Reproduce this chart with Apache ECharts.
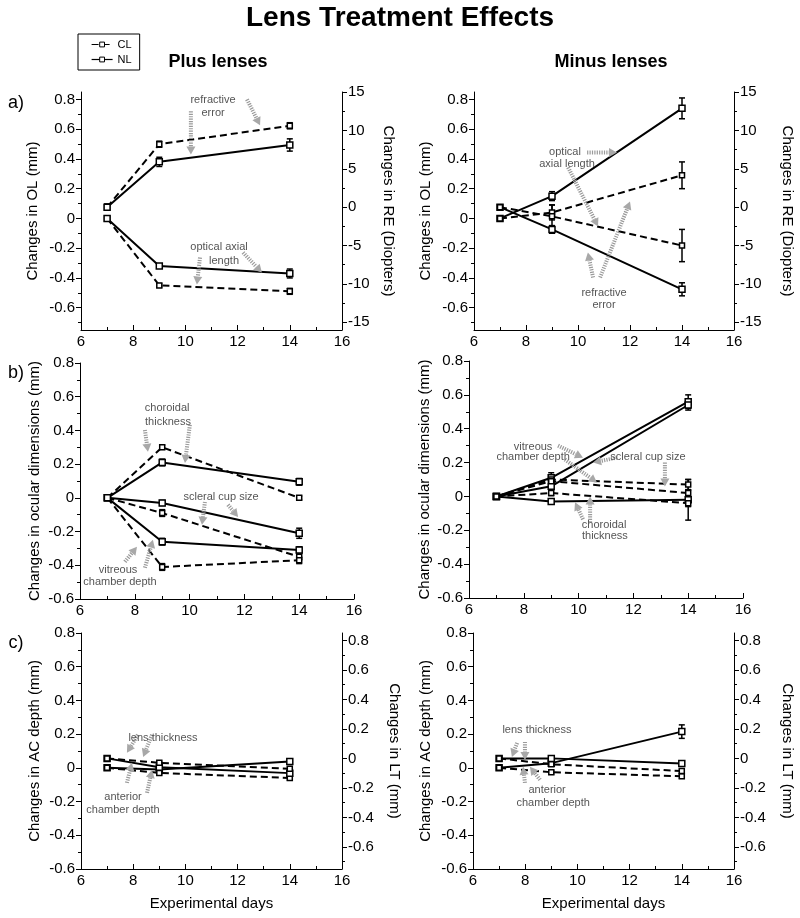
<!DOCTYPE html>
<html>
<head>
<meta charset="utf-8">
<script src="https://cdn.jsdelivr.net/npm/echarts@6/dist/echarts.min.js"></script>
<style>
  html, body { margin: 0; padding: 0; background: #fff; }
  #chart { width: 800px; height: 918px; }
</style>
</head>
<body>
<div id="chart"></div>
<script>
// experimental days
var days = [7, 9, 14];

// a) plus lenses: RE (right axis, D) and optical length (left axis, mm)
var plusRE_CL = [0, 8.2, 10.6],    plusRE_CL_err = [0.4, 0.4, 0.4];
var plusRE_NL = [0, 5.9, 8.1],     plusRE_NL_err = [0.4, 0.6, 0.8];
var plusOL_CL = [0, -0.45, -0.49], plusOL_CL_err = [0.01, 0.012, 0.02];
var plusOL_NL = [0, -0.32, -0.37], plusOL_NL_err = [0.01, 0.012, 0.03];

// a) minus lenses
var minusOL_NL = [0, 0.15, 0.74],  minusOL_NL_err = [0.01, 0.03, 0.07];
var minusOL_CL = [0, 0.04, 0.29],  minusOL_CL_err = [0.01, 0.05, 0.09];
var minusRE_NL = [0, -2.9, -10.7], minusRE_NL_err = [0.3, 0.5, 0.85];
var minusRE_CL = [0, -1.2, -5.0],  minusRE_CL_err = [0.3, 1.5, 2.1];

// b) ocular dimensions, plus lenses
var plusChor_CL = [0, 0.30, 0.00],  plusChor_CL_err = [0.01, 0.012, 0.01];
var plusChor_NL = [0, 0.21, 0.095], plusChor_NL_err = [0.01, 0.02, 0.02];
var plusScl_CL  = [0, -0.09, -0.35], plusScl_CL_err = [0.01, 0.02, 0.02];
var plusScl_NL  = [0, -0.03, -0.21], plusScl_NL_err = [0.01, 0.015, 0.03];
var plusVit_CL  = [0, -0.41, -0.37], plusVit_CL_err = [0.01, 0.02, 0.02];
var plusVit_NL  = [0, -0.26, -0.31], plusVit_NL_err = [0.01, 0.02, 0.02];

// b) ocular dimensions, minus lenses
var minusVit_NL  = [0, 0.11, 0.56],  minusVit_NL_err = [0.01, 0.03, 0.04];
var minusScl_NL  = [0, 0.06, 0.54],  minusScl_NL_err = [0.01, 0.02, 0.03];
var minusChor_NL = [0, -0.03, -0.02], minusChor_NL_err = [0.01, 0.015, 0.12];
var minusVit_CL  = [0, 0.10, 0.07],  minusVit_CL_err = [0.01, 0.02, 0.03];
var minusScl_CL  = [0, 0.09, 0.02],  minusScl_CL_err = [0.01, 0.02, 0.02];
var minusChor_CL = [0, 0.02, -0.04], minusChor_CL_err = [0.01, 0.015, 0.02];

// c) AC depth (left axis) and lens thickness (right axis)
var plusAC_NL = [0, -0.01, 0.037], plusAC_CL = [0, -0.03, -0.06];
var plusLT_NL = [0, -0.06, -0.10], plusLT_CL = [0, -0.03, -0.07];
var minusAC_NL = [0, 0.028, 0.215], minusAC_NL_err = [0.01, 0.01, 0.04];
var minusAC_CL = [0, -0.026, -0.05];
var minusLT_NL = [0, 0.0, -0.035], minusLT_CL = [0, -0.04, -0.086];
var smallErr = [0.01, 0.01, 0.012];

// tick labels
var mmTicks = [-0.6, -0.4, -0.2, 0, 0.2, 0.4, 0.6, 0.8];
var mmMinor = [-0.7, -0.5, -0.3, -0.1, 0.1, 0.3, 0.5, 0.7];
var reTicks = [-15, -10, -5, 0, 5, 10, 15];
var reMinor = [-12.5, -7.5, -2.5, 2.5, 7.5, 12.5];

// annotations: [x, y, text] and arrows [x1, y1, x2, y2] in data units
var notesA1 = [[11.06, 0.795, 'refractive'], [11.06, 0.707, 'error'], [11.29, -0.195, 'optical axial'], [11.48, -0.283, 'length']];
var arrowsA1 = [[10.21, 0.72, 10.21, 0.43], [12.36, 0.80, 12.86, 0.626], [10.56, -0.263, 10.44, -0.444], [12.21, -0.229, 12.93, -0.364]];
var notesA2 = [[9.5, 0.444, 'optical'], [9.58, 0.364, 'axial length'], [11.0, -0.498, 'refractive'], [11.0, -0.579, 'error']];
var arrowsA2 = [[10.35, 0.444, 11.5, 0.444], [9.62, 0.343, 10.77, -0.054], [10.58, -0.397, 10.38, -0.229], [10.85, -0.397, 12.0, 0.114]];
var notesB1 = [[9.18, 0.533, 'choroidal'], [9.21, 0.45, 'thickness'], [11.15, 0.006, 'scleral cup size'], [7.39, -0.427, 'vitreous'], [7.46, -0.498, 'chamber depth']];
var arrowsB1 = [[8.37, 0.403, 8.48, 0.273], [10.01, 0.433, 9.83, 0.207], [10.56, -0.024, 10.45, -0.16], [11.4, -0.041, 11.77, -0.113], [7.64, -0.379, 8.08, -0.29], [8.37, -0.415, 8.66, -0.249]];
var notesB2 = [[8.34, 0.294, 'vitreous'], [8.34, 0.235, 'chamber depth'], [12.53, 0.235, 'scleral cup size'], [10.93, -0.171, 'choroidal'], [10.96, -0.235, 'thickness']];
var arrowsB2 = [[9.25, 0.3, 10.16, 0.229], [9.5, 0.218, 10.67, 0.082], [11.4, 0.229, 10.53, 0.2], [13.15, 0.2, 13.15, 0.059], [10.42, -0.153, 10.42, 0.0], [10.16, -0.135, 9.87, -0.035]];
var notesC1 = [[9.14, 0.178, 'lens thickness'], [7.61, -0.172, 'anterior'], [7.61, -0.249, 'chamber depth']];
var arrowsC1 = [[8.18, 0.196, 7.76, 0.089], [8.72, 0.196, 8.38, 0.065], [7.76, -0.089, 7.95, 0.03], [8.53, -0.148, 8.72, -0.012]];
var notesC2 = [[8.45, 0.225, 'lens thickness'], [8.84, -0.13, 'anterior'], [9.07, -0.207, 'chamber depth']];
var arrowsC2 = [[7.69, 0.148, 7.49, 0.065], [7.99, 0.154, 7.99, 0.047], [7.99, -0.089, 7.92, 0.006], [8.57, -0.071, 8.18, 0.006]];

var font = 'Arial, "Liberation Sans", Helvetica, sans-serif';

var myChart = echarts.init(document.getElementById('chart'));

function numFmt(v) {
    var r = Math.round(v * 10) / 10;
    return r === 0 ? '0' : String(r);
}

var grids = [
    { left: 81, top: 92, width: 261, height: 238 },   // a plus
    { left: 474, top: 92, width: 260, height: 238 },  // a minus
    { left: 80, top: 363, width: 274, height: 236 },  // b plus
    { left: 469, top: 361, width: 274, height: 237 }, // b minus
    { left: 81, top: 633, width: 261, height: 236 },  // c plus
    { left: 473, top: 633, width: 261, height: 236 }  // c minus
];
grids.forEach(function (g) { g.containLabel = false; g.outerBoundsMode = 'none'; });

// x ticks point into the plot, as in the original
var xAxes = grids.map(function (g, i) {
    return {
        type: 'value', gridIndex: i, min: 6, max: 16, interval: 2,
        name: i >= 4 ? 'Experimental days' : '', nameLocation: 'middle', nameGap: 27,
        nameTextStyle: { fontSize: 15, color: '#000', fontFamily: font },
        splitLine: { show: false },
        axisLine: { onZero: false, lineStyle: { color: '#000', width: 1 } },
        axisTick: { inside: true, length: 5, lineStyle: { color: '#000' } },
        minorTick: { show: true, splitNumber: 2, length: 3, lineStyle: { color: '#000' } },
        axisLabel: { fontSize: 15, color: '#000', margin: 4, fontFamily: font }
    };
});

var yAxes = [];
function nameStyle() {
    return { fontSize: 15, color: '#000', fontFamily: font };
}
// y axis with hand-picked tick values, plus an overlay axis for the minor ticks
function customY(grid, pos, min, max, major, minor, name, gap) {
    var idx = yAxes.length;
    yAxes.push({
        type: 'value', gridIndex: grid, position: pos, min: min, max: max,
        name: name, nameLocation: 'middle', nameGap: gap, nameRotate: pos === 'right' ? -90 : 90,
        nameTextStyle: nameStyle(),
        splitLine: { show: false },
        axisLine: { show: true, onZero: false, lineStyle: { color: '#000', width: 1 } },
        axisTick: { show: true, length: 5, customValues: major, lineStyle: { color: '#000' } },
        axisLabel: { customValues: major, formatter: numFmt, fontSize: 15, color: '#000', margin: 6, fontFamily: font }
    });
    yAxes.push({
        type: 'value', gridIndex: grid, position: pos, min: min, max: max,
        splitLine: { show: false },
        axisLine: { show: false, onZero: false },
        axisLabel: { show: false },
        axisTick: { show: true, length: 3, customValues: minor, lineStyle: { color: '#000' } }
    });
    return idx;
}
function plainY(grid, name, gap) {
    var idx = yAxes.length;
    yAxes.push({
        type: 'value', gridIndex: grid, position: 'left', min: -0.6, max: 0.8, interval: 0.2,
        name: name, nameLocation: 'middle', nameGap: gap, nameRotate: 90,
        nameTextStyle: nameStyle(),
        splitLine: { show: false },
        axisLine: { show: true, onZero: false, lineStyle: { color: '#000', width: 1 } },
        axisTick: { show: true, length: 5, lineStyle: { color: '#000' } },
        minorTick: { show: true, splitNumber: 2, length: 3, lineStyle: { color: '#000' } },
        axisLabel: { formatter: numFmt, fontSize: 15, color: '#000', margin: 6, fontFamily: font }
    });
    return idx;
}

var yA1L = customY(0, 'left', -0.75, 0.85, mmTicks, mmMinor, 'Changes in OL (mm)', 41);
var yA1R = customY(0, 'right', -16, 15, reTicks, reMinor, 'Changes in RE (Diopters)', 39);
var yA2L = customY(1, 'left', -0.75, 0.85, mmTicks, mmMinor, 'Changes in OL (mm)', 41);
var yA2R = customY(1, 'right', -16, 15, reTicks, reMinor, 'Changes in RE (Diopters)', 46);
var yB1 = plainY(2, 'Changes in ocular dimensions (mm)', 38);
var yB2 = plainY(3, 'Changes in ocular dimensions (mm)', 37);
var yC1L = plainY(4, 'Changes in AC depth (mm)', 39);
var yC1R = customY(4, 'right', -0.75, 0.85, mmTicks, mmMinor, 'Changes in LT (mm)', 45);
var yC2L = plainY(5, 'Changes in AC depth (mm)', 40);
var yC2R = customY(5, 'right', -0.75, 0.85, mmTicks, mmMinor, 'Changes in LT (mm)', 46);

var series = [];

function addLine(name, xi, yi, vals, errs) {
    var dashed = name === 'CL';
    series.push({
        name: name, type: 'line', xAxisIndex: xi, yAxisIndex: yi,
        data: days.map(function (d, i) { return [d, vals[i]]; }),
        symbol: 'rect', symbolSize: dashed ? 5 : 6,
        itemStyle: { color: '#fff', borderColor: '#000', borderWidth: 1.5 },
        lineStyle: { color: '#000', width: 2, type: dashed ? [7, 4] : 'solid' },
        z: 3, silent: true
    });
    series.push({
        type: 'custom', name: 'err', xAxisIndex: xi, yAxisIndex: yi, z: 2, silent: true,
        data: days.map(function (d, i) { return [d, vals[i], errs[i]]; }),
        renderItem: function (params, api) {
            var x = api.value(0), y = api.value(1), e = api.value(2);
            var top = api.coord([x, y + e]), bot = api.coord([x, y - e]);
            var w = 3, st = { stroke: '#000', lineWidth: 1.5 };
            return {
                type: 'group', children: [
                    { type: 'line', shape: { x1: top[0], y1: top[1], x2: bot[0], y2: bot[1] }, style: st },
                    { type: 'line', shape: { x1: top[0] - w, y1: top[1], x2: top[0] + w, y2: top[1] }, style: st },
                    { type: 'line', shape: { x1: bot[0] - w, y1: bot[1], x2: bot[0] + w, y2: bot[1] }, style: st }
                ]
            };
        }
    });
}

function addNotes(xi, yi, notes, arrows) {
    series.push({
        type: 'custom', name: 'arrow', xAxisIndex: xi, yAxisIndex: yi, z: 5, silent: true, clip: false,
        data: arrows,
        renderItem: function (params, api) {
            var a = api.coord([api.value(0), api.value(1)]);
            var b = api.coord([api.value(2), api.value(3)]);
            var dx = b[0] - a[0], dy = b[1] - a[1];
            var len = Math.sqrt(dx * dx + dy * dy) || 1;
            var ux = dx / len, uy = dy / len;
            var hl = 8, hw = 4.5;
            var bx = b[0] - ux * hl, by = b[1] - uy * hl;
            return {
                type: 'group', children: [
                    { type: 'line', shape: { x1: a[0], y1: a[1], x2: bx, y2: by },
                      style: { stroke: '#9a9a9a', lineWidth: 4, lineDash: [1.2, 1.2] } },
                    { type: 'polygon', shape: { points: [[b[0], b[1]], [bx - uy * hw, by + ux * hw], [bx + uy * hw, by - ux * hw]] },
                      style: { fill: '#a8a8a8' } }
                ]
            };
        }
    });
    series.push({
        type: 'custom', name: 'note', xAxisIndex: xi, yAxisIndex: yi, z: 6, silent: true, clip: false,
        data: notes.map(function (n) { return [n[0], n[1]]; }),
        renderItem: function (params, api) {
            var c = api.coord([api.value(0), api.value(1)]);
            return {
                type: 'text', x: c[0], y: c[1],
                style: { text: notes[params.dataIndex][2], fill: '#555', font: '11px ' + font, align: 'center', verticalAlign: 'middle' }
            };
        }
    });
}

// a) plus
addLine('CL', 0, yA1R, plusRE_CL, plusRE_CL_err);
addLine('NL', 0, yA1R, plusRE_NL, plusRE_NL_err);
addLine('CL', 0, yA1L, plusOL_CL, plusOL_CL_err);
addLine('NL', 0, yA1L, plusOL_NL, plusOL_NL_err);
addNotes(0, yA1L, notesA1, arrowsA1);
// a) minus
addLine('NL', 1, yA2L, minusOL_NL, minusOL_NL_err);
addLine('CL', 1, yA2L, minusOL_CL, minusOL_CL_err);
addLine('NL', 1, yA2R, minusRE_NL, minusRE_NL_err);
addLine('CL', 1, yA2R, minusRE_CL, minusRE_CL_err);
addNotes(1, yA2L, notesA2, arrowsA2);
// b) plus
addLine('CL', 2, yB1, plusChor_CL, plusChor_CL_err);
addLine('NL', 2, yB1, plusChor_NL, plusChor_NL_err);
addLine('CL', 2, yB1, plusScl_CL, plusScl_CL_err);
addLine('NL', 2, yB1, plusScl_NL, plusScl_NL_err);
addLine('CL', 2, yB1, plusVit_CL, plusVit_CL_err);
addLine('NL', 2, yB1, plusVit_NL, plusVit_NL_err);
addNotes(2, yB1, notesB1, arrowsB1);
// b) minus
addLine('NL', 3, yB2, minusVit_NL, minusVit_NL_err);
addLine('NL', 3, yB2, minusScl_NL, minusScl_NL_err);
addLine('NL', 3, yB2, minusChor_NL, minusChor_NL_err);
addLine('CL', 3, yB2, minusVit_CL, minusVit_CL_err);
addLine('CL', 3, yB2, minusScl_CL, minusScl_CL_err);
addLine('CL', 3, yB2, minusChor_CL, minusChor_CL_err);
addNotes(3, yB2, notesB2, arrowsB2);
// c) plus
addLine('NL', 4, yC1L, plusAC_NL, smallErr);
addLine('CL', 4, yC1L, plusAC_CL, smallErr);
addLine('NL', 4, yC1R, plusLT_NL, smallErr);
addLine('CL', 4, yC1R, plusLT_CL, smallErr);
addNotes(4, yC1L, notesC1, arrowsC1);
// c) minus
addLine('NL', 5, yC2L, minusAC_NL, minusAC_NL_err);
addLine('CL', 5, yC2L, minusAC_CL, smallErr);
addLine('NL', 5, yC2R, minusLT_NL, smallErr);
addLine('CL', 5, yC2R, minusLT_CL, smallErr);
addNotes(5, yC2L, notesC2, arrowsC2);

function label(text, x, y, size, bold) {
    return {
        type: 'text', x: x, y: y, z: 10,
        style: { text: text, fill: '#000', font: (bold ? 'bold ' : '') + size + 'px ' + font, align: 'center', verticalAlign: 'middle' }
    };
}

var option = {
    animation: false,
    backgroundColor: '#fff',
    title: {
        text: 'Lens Treatment Effects', left: 'center', top: 4, padding: 0,
        textStyle: { fontSize: 28, fontWeight: 'bold', color: '#000', fontFamily: font }
    },
    legend: {
        data: ['CL', 'NL'], orient: 'vertical', left: 78, top: 34,
        itemWidth: 21, itemHeight: 6, itemGap: 4, padding: [5, 8, 5, 13],
        borderColor: '#000', borderWidth: 1, selectedMode: false,
        lineStyle: { width: 1.2 },
        itemStyle: { borderWidth: 1 },
        textStyle: { fontSize: 11, color: '#000', fontFamily: font }
    },
    graphic: [
        label('Plus lenses', 218, 62, 18, true),
        label('Minus lenses', 611, 62, 18, true),
        label('a)', 16, 103, 18, false),
        label('b)', 16, 373, 18, false),
        label('c)', 16, 643, 18, false)
    ],
    grid: grids,
    xAxis: xAxes,
    yAxis: yAxes,
    series: series
};

myChart.setOption(option);
</script>
</body>
</html>
